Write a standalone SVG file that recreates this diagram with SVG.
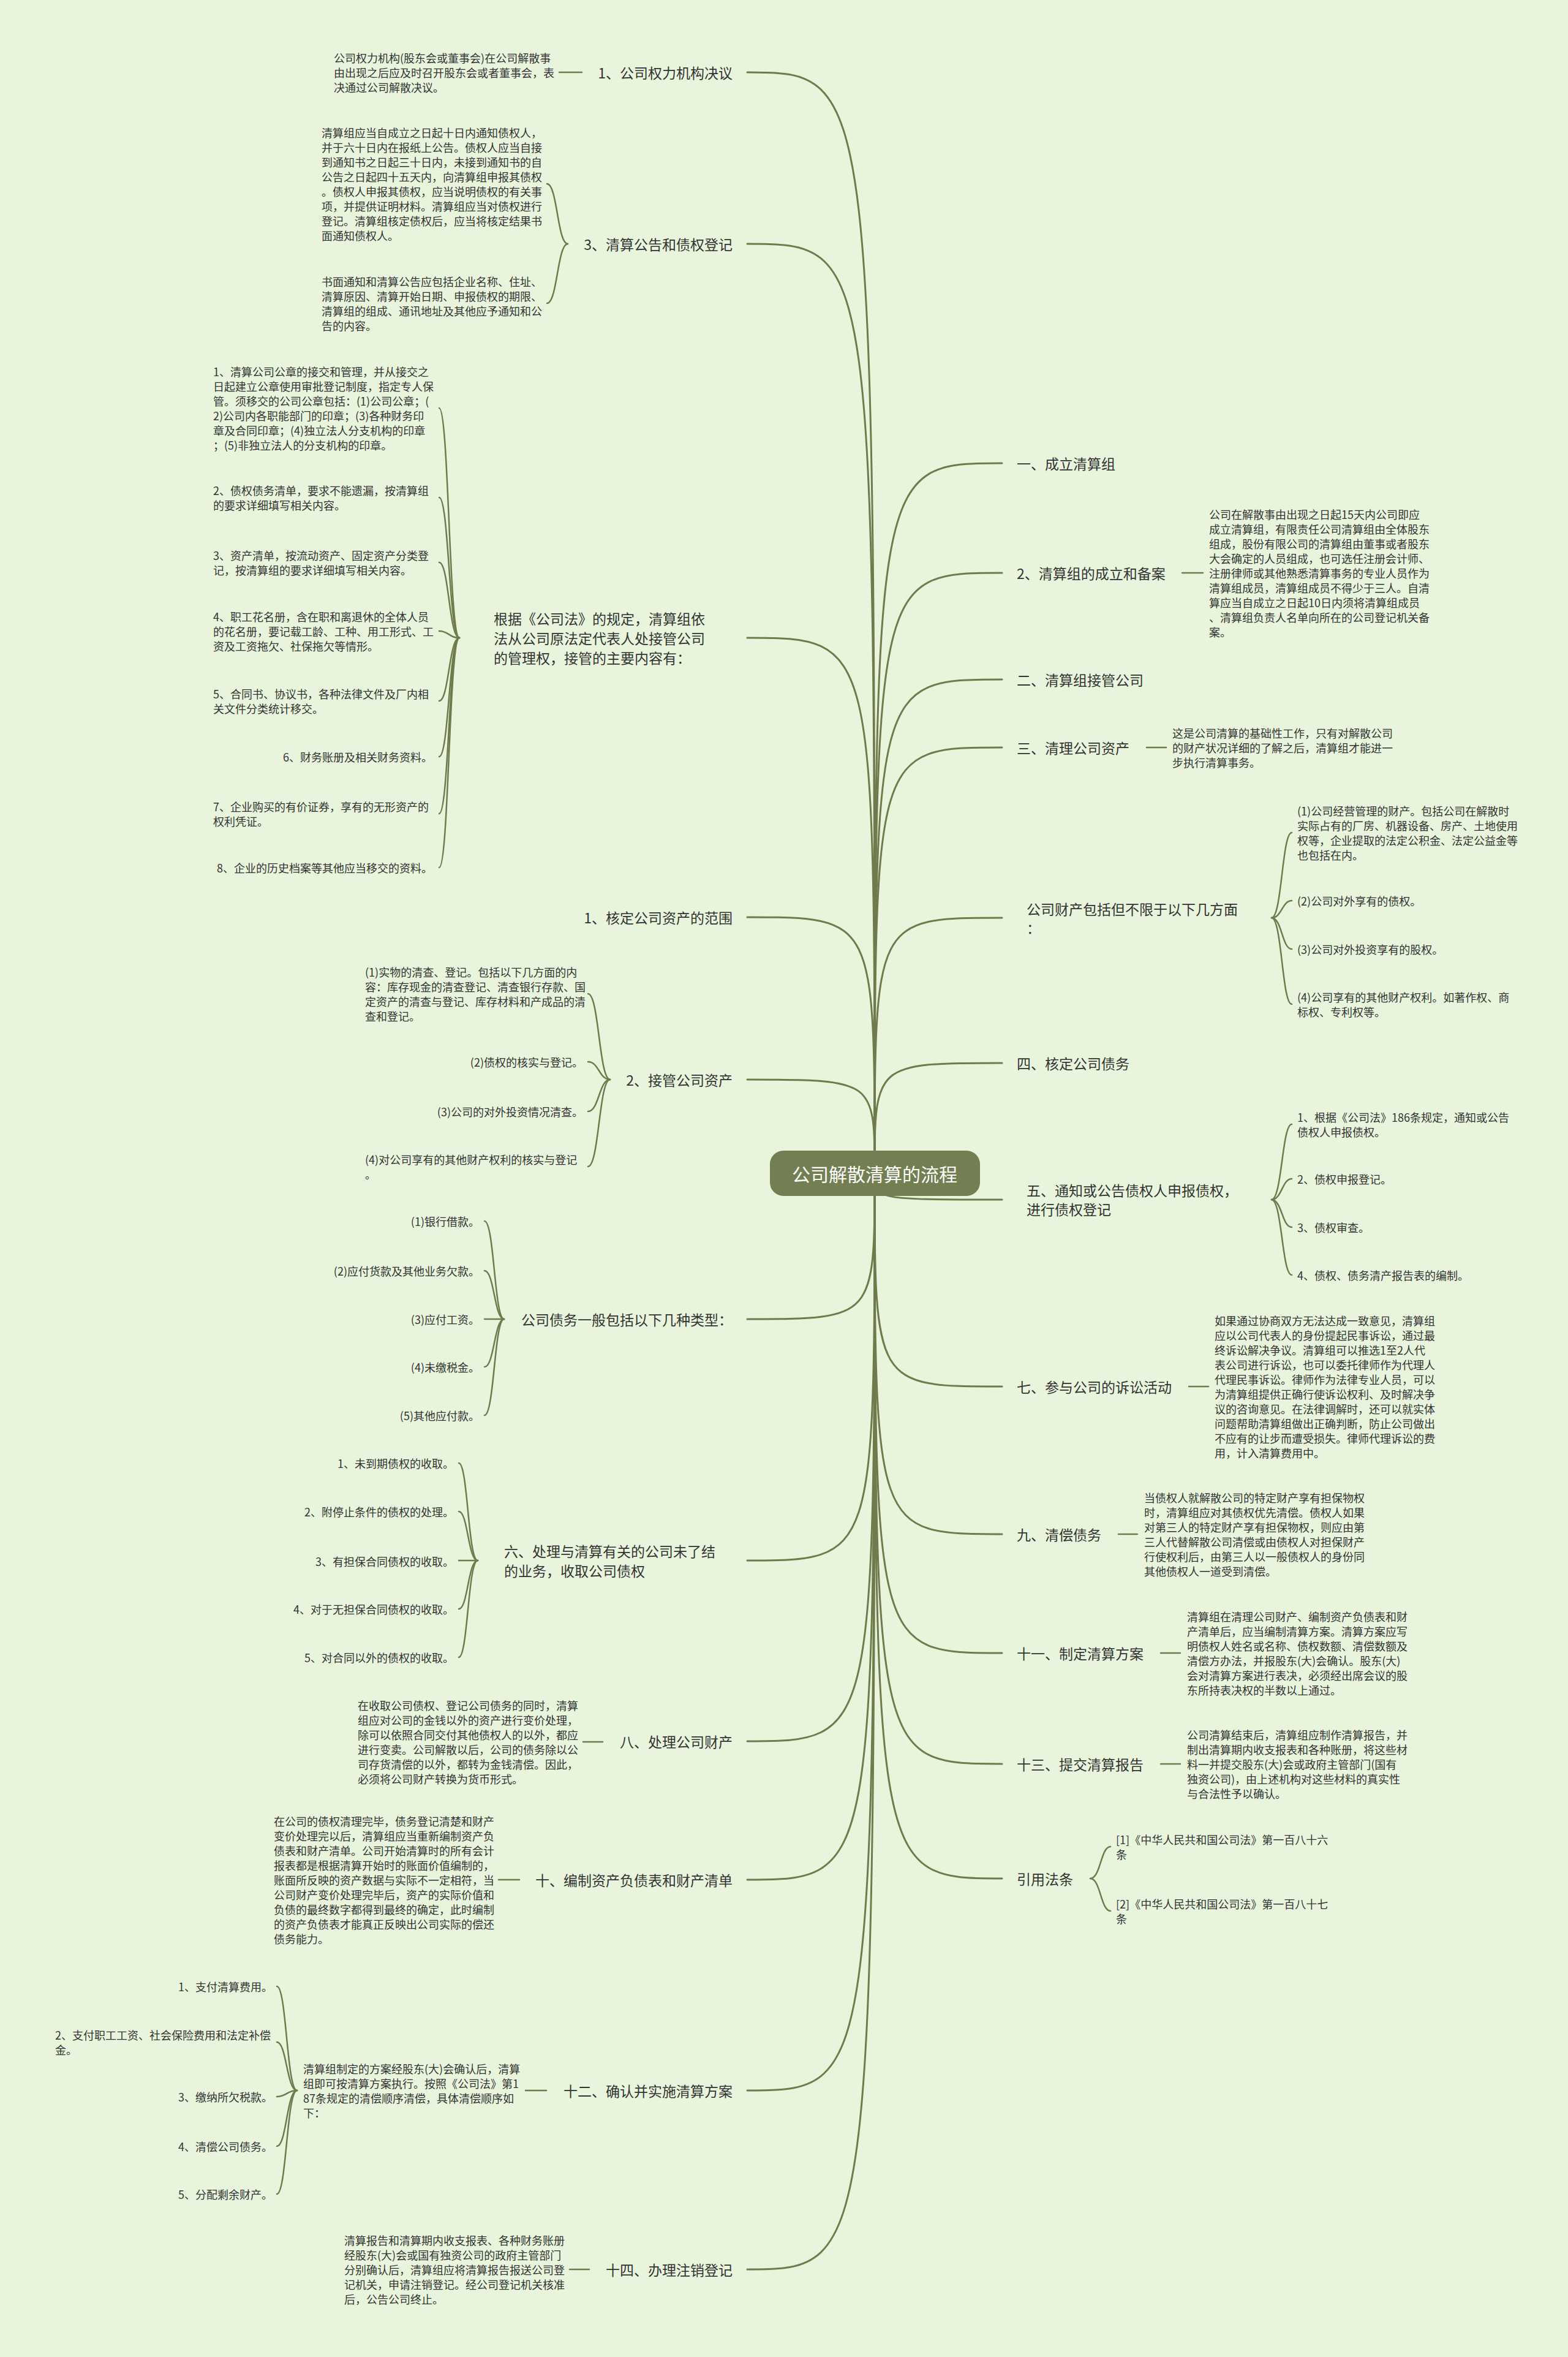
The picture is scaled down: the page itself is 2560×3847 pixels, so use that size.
<svg xmlns="http://www.w3.org/2000/svg" width="2560" height="3847" viewBox="0 0 2560 3847">
<style>
text{font-family:"Noto Sans CJK SC","Liberation Sans",sans-serif;fill:#333333;dominant-baseline:central}
.lbl{font-size:23px}
.t{font-size:18px}
.e{text-anchor:end}
.ln{fill:none;stroke:#6f7b4c;stroke-width:2.5;stroke-linecap:round}
.tr{fill:none;stroke:#6f7b4c;stroke-width:3;stroke-linecap:round}
.ctext{font-size:30px;fill:#ffffff;text-anchor:middle}
</style>
<rect x="0" y="0" width="2560" height="3847" fill="#e8f5dc"/>

<g id="connectors">
<!-- trunk left -->
<path class="tr" d="M1220 118 C1428 118 1428 118 1428 1915"/>
<path class="tr" d="M1220 398 C1428 398 1428 398 1428 1915"/>
<path class="tr" d="M1220 1041 C1428 1041 1428 1041 1428 1915"/>
<path class="tr" d="M1220 1497 C1428 1497 1428 1497 1428 1915"/>
<path class="tr" d="M1220 1762 C1428 1762 1428 1762 1428 1915"/>
<path class="tr" d="M1220 2153 C1428 2153 1428 2153 1428 1915"/>
<path class="tr" d="M1220 2547 C1428 2547 1428 2547 1428 1915"/>
<path class="tr" d="M1220 2842 C1428 2842 1428 2842 1428 1915"/>
<path class="tr" d="M1220 3068 C1428 3068 1428 3068 1428 1915"/>
<path class="tr" d="M1220 3412 C1428 3412 1428 3412 1428 1915"/>
<path class="tr" d="M1220 3704 C1428 3704 1428 3704 1428 1915"/>
<!-- trunk right -->
<path class="tr" d="M1636 756 C1428 756 1428 756 1428 1915"/>
<path class="tr" d="M1636 935 C1428 935 1428 935 1428 1915"/>
<path class="tr" d="M1636 1109 C1428 1109 1428 1109 1428 1915"/>
<path class="tr" d="M1636 1220 C1428 1220 1428 1220 1428 1915"/>
<path class="tr" d="M1636 1498 C1428 1498 1428 1498 1428 1915"/>
<path class="tr" d="M1636 1735 C1428 1735 1428 1735 1428 1915"/>
<path class="tr" d="M1636 1958 C1428 1958 1428 1958 1428 1915"/>
<path class="tr" d="M1636 2263 C1428 2263 1428 2263 1428 1915"/>
<path class="tr" d="M1636 2504 C1428 2504 1428 2504 1428 1915"/>
<path class="tr" d="M1636 2698 C1428 2698 1428 2698 1428 1915"/>
<path class="tr" d="M1636 2879 C1428 2879 1428 2879 1428 1915"/>
<path class="tr" d="M1636 3066 C1428 3066 1428 3066 1428 1915"/>
<!-- left sub -->
<path class="ln" d="M950 118 L913 118"/>
<path class="ln" d="M927 398 C910 398 910 300 893 300"/>
<path class="ln" d="M927 398 C910 398 910 495 893 495"/>
<path class="ln" d="M750 1041 C733 1041 733 666 717 666"/>
<path class="ln" d="M750 1041 C733 1041 733 812 717 812"/>
<path class="ln" d="M750 1041 C733 1041 733 918 717 918"/>
<path class="ln" d="M750 1041 C733 1041 733 1030 717 1030"/>
<path class="ln" d="M750 1041 C733 1041 733 1144 717 1144"/>
<path class="ln" d="M750 1041 C733 1041 733 1235 717 1235"/>
<path class="ln" d="M750 1041 C733 1041 733 1328 717 1328"/>
<path class="ln" d="M750 1041 C733 1041 733 1416 717 1416"/>
<path class="ln" d="M996 1762 C978 1762 978 1622 960 1622"/>
<path class="ln" d="M996 1762 C978 1762 978 1733 960 1733"/>
<path class="ln" d="M996 1762 C978 1762 978 1814 960 1814"/>
<path class="ln" d="M996 1762 C978 1762 978 1904 960 1904"/>
<path class="ln" d="M823 2153 C807 2153 807 1993 791 1993"/>
<path class="ln" d="M823 2153 C807 2153 807 2074 791 2074"/>
<path class="ln" d="M823 2153 L791 2153"/>
<path class="ln" d="M823 2153 C807 2153 807 2231 791 2231"/>
<path class="ln" d="M823 2153 C807 2153 807 2310 791 2310"/>
<path class="ln" d="M780 2547 C764 2547 764 2388 749 2388"/>
<path class="ln" d="M780 2547 C764 2547 764 2467 749 2467"/>
<path class="ln" d="M780 2547 L749 2547"/>
<path class="ln" d="M780 2547 C764 2547 764 2626 749 2626"/>
<path class="ln" d="M780 2547 C764 2547 764 2705 749 2705"/>
<path class="ln" d="M984 2843 L952 2843"/>
<path class="ln" d="M848 3068 L814 3068"/>
<path class="ln" d="M892 3412 L858 3412"/>
<path class="ln" d="M485 3412 C468 3412 468 3242 452 3242"/>
<path class="ln" d="M485 3412 C468 3412 468 3333 452 3333"/>
<path class="ln" d="M485 3412 C468 3412 468 3422 452 3422"/>
<path class="ln" d="M485 3412 C468 3412 468 3503 452 3503"/>
<path class="ln" d="M485 3412 C468 3412 468 3581 452 3581"/>
<path class="ln" d="M962 3704 L930 3704"/>
<!-- right sub -->
<path class="ln" d="M1930 935 L1964 935"/>
<path class="ln" d="M1872 1220 L1904 1220"/>
<path class="ln" d="M2076 1498 C2093 1498 2093 1359 2109 1359"/>
<path class="ln" d="M2076 1498 C2093 1498 2093 1470 2109 1470"/>
<path class="ln" d="M2076 1498 C2093 1498 2093 1549 2109 1549"/>
<path class="ln" d="M2076 1498 C2093 1498 2093 1639 2109 1639"/>
<path class="ln" d="M2076 1958 C2093 1958 2093 1835 2109 1835"/>
<path class="ln" d="M2076 1958 C2093 1958 2093 1924 2109 1924"/>
<path class="ln" d="M2076 1958 C2093 1958 2093 2003 2109 2003"/>
<path class="ln" d="M2076 1958 C2093 1958 2093 2081 2109 2081"/>
<path class="ln" d="M1941 2263 L1973 2263"/>
<path class="ln" d="M1826 2504 L1857 2504"/>
<path class="ln" d="M1895 2698 L1927 2698"/>
<path class="ln" d="M1895 2879 L1927 2879"/>
<path class="ln" d="M1780 3066 C1797 3066 1797 3014 1813 3014"/>
<path class="ln" d="M1780 3066 C1797 3066 1797 3119 1813 3119"/>
</g>

<g id="center">
<rect x="1257" y="1878" width="343" height="74" rx="22" fill="#737f52"/>
<text class="ctext" x="1428" y="1915">公司解散清算的流程</text>
</g>

<!-- LEFT -->
<g id="n-l1">
<text class="lbl e" x="1196" y="118">1、公司权力机构决议</text>
</g>
<g id="n-l1-d">
<text class="t" x="545" y="94"><tspan x="545" y="94">公司权力机构(股东会或董事会)在公司解散事</tspan><tspan x="545" y="118">由出现之后应及时召开股东会或者董事会，表</tspan><tspan x="545" y="142">决通过公司解散决议。</tspan></text>
</g>

<g id="n-l3">
<text class="lbl e" x="1196" y="398">3、清算公告和债权登记</text>
</g>
<g id="n-l3-c1">
<text class="t"><tspan x="525" y="216">清算组应当自成立之日起十日内通知债权人，</tspan><tspan x="525" y="240">并于六十日内在报纸上公告。债权人应当自接</tspan><tspan x="525" y="264">到通知书之日起三十日内，未接到通知书的自</tspan><tspan x="525" y="288">公告之日起四十五天内，向清算组申报其债权</tspan><tspan x="525" y="312">。债权人申报其债权，应当说明债权的有关事</tspan><tspan x="525" y="336">项，并提供证明材料。清算组应当对债权进行</tspan><tspan x="525" y="360">登记。清算组核定债权后，应当将核定结果书</tspan><tspan x="525" y="384">面通知债权人。</tspan></text>
</g>
<g id="n-l3-c2">
<text class="t"><tspan x="525" y="459">书面通知和清算公告应包括企业名称、住址、</tspan><tspan x="525" y="483">清算原因、清算开始日期、申报债权的期限、</tspan><tspan x="525" y="507">清算组的组成、通讯地址及其他应予通知和公</tspan><tspan x="525" y="531">告的内容。</tspan></text>
</g>

<g id="n-gj">
<text class="lbl"><tspan x="806" y="1009">根据《公司法》的规定，清算组依</tspan><tspan x="806" y="1041">法从公司原法定代表人处接管公司</tspan><tspan x="806" y="1073">的管理权，接管的主要内容有：</tspan></text>
</g>
<g id="n-gj-c1"><text class="t"><tspan x="348" y="606">1、清算公司公章的接交和管理，并从接交之</tspan><tspan x="348" y="630">日起建立公章使用审批登记制度，指定专人保</tspan><tspan x="348" y="654">管。须移交的公司公章包括：(1)公司公章；(</tspan><tspan x="348" y="678">2)公司内各职能部门的印章；(3)各种财务印</tspan><tspan x="348" y="702">章及合同印章；(4)独立法人分支机构的印章</tspan><tspan x="348" y="726">；(5)非独立法人的分支机构的印章。</tspan></text></g>
<g id="n-gj-c2"><text class="t"><tspan x="348" y="800">2、债权债务清单，要求不能遗漏，按清算组</tspan><tspan x="348" y="824">的要求详细填写相关内容。</tspan></text></g>
<g id="n-gj-c3"><text class="t"><tspan x="348" y="906">3、资产清单，按流动资产、固定资产分类登</tspan><tspan x="348" y="930">记，按清算组的要求详细填写相关内容。</tspan></text></g>
<g id="n-gj-c4"><text class="t"><tspan x="348" y="1006">4、职工花名册，含在职和离退休的全体人员</tspan><tspan x="348" y="1030">的花名册，要记载工龄、工种、用工形式、工</tspan><tspan x="348" y="1054">资及工资拖欠、社保拖欠等情形。</tspan></text></g>
<g id="n-gj-c5"><text class="t"><tspan x="348" y="1132">5、合同书、协议书，各种法律文件及厂内相</tspan><tspan x="348" y="1156">关文件分类统计移交。</tspan></text></g>
<g id="n-gj-c6"><text class="t e" x="706" y="1235">6、财务账册及相关财务资料。</text></g>
<g id="n-gj-c7"><text class="t"><tspan x="348" y="1316">7、企业购买的有价证券，享有的无形资产的</tspan><tspan x="348" y="1340">权利凭证。</tspan></text></g>
<g id="n-gj-c8"><text class="t e" x="706" y="1416">8、企业的历史档案等其他应当移交的资料。</text></g>

<g id="n-hd"><text class="lbl e" x="1196" y="1497">1、核定公司资产的范围</text></g>

<g id="n-jg"><text class="lbl e" x="1196" y="1762">2、接管公司资产</text></g>
<g id="n-jg-c1"><text class="t"><tspan x="596" y="1586">(1)实物的清查、登记。包括以下几方面的内</tspan><tspan x="596" y="1610">容：库存现金的清查登记、清查银行存款、国</tspan><tspan x="596" y="1634">定资产的清查与登记、库存材料和产成品的清</tspan><tspan x="596" y="1658">查和登记。</tspan></text></g>
<g id="n-jg-c2"><text class="t e" x="952" y="1733">(2)债权的核实与登记。</text></g>
<g id="n-jg-c3"><text class="t e" x="952" y="1814">(3)公司的对外投资情况清查。</text></g>
<g id="n-jg-c4"><text class="t"><tspan x="596" y="1892">(4)对公司享有的其他财产权利的核实与登记</tspan><tspan x="596" y="1916">。</tspan></text></g>

<g id="n-zw"><text class="lbl e" x="1196" y="2153">公司债务一般包括以下几种类型：</text></g>
<g id="n-zw-c1"><text class="t e" x="783" y="1993">(1)银行借款。</text></g>
<g id="n-zw-c2"><text class="t e" x="783" y="2074">(2)应付货款及其他业务欠款。</text></g>
<g id="n-zw-c3"><text class="t e" x="783" y="2153">(3)应付工资。</text></g>
<g id="n-zw-c4"><text class="t e" x="783" y="2231">(4)未缴税金。</text></g>
<g id="n-zw-c5"><text class="t e" x="783" y="2310">(5)其他应付款。</text></g>

<g id="n-6"><text class="lbl"><tspan x="823" y="2531">六、处理与清算有关的公司未了结</tspan><tspan x="823" y="2563">的业务，收取公司债权</tspan></text></g>
<g id="n-6-c1"><text class="t e" x="741" y="2388">1、未到期债权的收取。</text></g>
<g id="n-6-c2"><text class="t e" x="741" y="2467">2、附停止条件的债权的处理。</text></g>
<g id="n-6-c3"><text class="t e" x="741" y="2548">3、有担保合同债权的收取。</text></g>
<g id="n-6-c4"><text class="t e" x="741" y="2626">4、对于无担保合同债权的收取。</text></g>
<g id="n-6-c5"><text class="t e" x="741" y="2705">5、对合同以外的债权的收取。</text></g>

<g id="n-8"><text class="lbl e" x="1196" y="2842">八、处理公司财产</text></g>
<g id="n-8-d"><text class="t"><tspan x="584" y="2783">在收取公司债权、登记公司债务的同时，清算</tspan><tspan x="584" y="2807">组应对公司的金钱以外的资产进行变价处理，</tspan><tspan x="584" y="2831">除可以依照合同交付其他债权人的以外，都应</tspan><tspan x="584" y="2855">进行变卖。公司解散以后，公司的债务除以公</tspan><tspan x="584" y="2879">司存货清偿的以外，都转为金钱清偿。因此，</tspan><tspan x="584" y="2903">必须将公司财产转换为货币形式。</tspan></text></g>

<g id="n-10"><text class="lbl e" x="1196" y="3068">十、编制资产负债表和财产清单</text></g>
<g id="n-10-d"><text class="t"><tspan x="447" y="2972">在公司的债权清理完毕，债务登记清楚和财产</tspan><tspan x="447" y="2996">变价处理完以后，清算组应当重新编制资产负</tspan><tspan x="447" y="3020">债表和财产清单。公司开始清算时的所有会计</tspan><tspan x="447" y="3044">报表都是根据清算开始时的账面价值编制的，</tspan><tspan x="447" y="3068">账面所反映的资产数据与实际不一定相符，当</tspan><tspan x="447" y="3092">公司财产变价处理完毕后，资产的实际价值和</tspan><tspan x="447" y="3116">负债的最终数字都得到最终的确定，此时编制</tspan><tspan x="447" y="3140">的资产负债表才能真正反映出公司实际的偿还</tspan><tspan x="447" y="3164">债务能力。</tspan></text></g>

<g id="n-12"><text class="lbl e" x="1196" y="3412">十二、确认并实施清算方案</text></g>
<g id="n-12-m"><text class="t"><tspan x="495" y="3376">清算组制定的方案经股东(大)会确认后，清算</tspan><tspan x="495" y="3400">组即可按清算方案执行。按照《公司法》第1</tspan><tspan x="495" y="3424">87条规定的清偿顺序清偿，具体清偿顺序如</tspan><tspan x="495" y="3448">下：</tspan></text></g>
<g id="n-12-c1"><text class="t e" x="445" y="3242">1、支付清算费用。</text></g>
<g id="n-12-c2"><text class="t"><tspan x="90" y="3321">2、支付职工工资、社会保险费用和法定补偿</tspan><tspan x="90" y="3345">金。</tspan></text></g>
<g id="n-12-c3"><text class="t e" x="445" y="3422">3、缴纳所欠税款。</text></g>
<g id="n-12-c4"><text class="t e" x="445" y="3503">4、清偿公司债务。</text></g>
<g id="n-12-c5"><text class="t e" x="445" y="3581">5、分配剩余财产。</text></g>

<g id="n-14"><text class="lbl e" x="1196" y="3704">十四、办理注销登记</text></g>
<g id="n-14-d"><text class="t"><tspan x="562" y="3656">清算报告和清算期内收支报表、各种财务账册</tspan><tspan x="562" y="3680">经股东(大)会或国有独资公司的政府主管部门</tspan><tspan x="562" y="3704">分别确认后，清算组应将清算报告报送公司登</tspan><tspan x="562" y="3728">记机关，申请注销登记。经公司登记机关核准</tspan><tspan x="562" y="3752">后，公告公司终止。</tspan></text></g>

<!-- RIGHT -->
<g id="n-r1"><text class="lbl" x="1660" y="756">一、成立清算组</text></g>
<g id="n-r2"><text class="lbl" x="1660" y="935">2、清算组的成立和备案</text></g>
<g id="n-r2-d"><text class="t"><tspan x="1974" y="839">公司在解散事由出现之日起15天内公司即应</tspan><tspan x="1974" y="863">成立清算组，有限责任公司清算组由全体股东</tspan><tspan x="1974" y="887">组成，股份有限公司的清算组由董事或者股东</tspan><tspan x="1974" y="911">大会确定的人员组成，也可选任注册会计师、</tspan><tspan x="1974" y="935">注册律师或其他熟悉清算事务的专业人员作为</tspan><tspan x="1974" y="959">清算组成员，清算组成员不得少于三人。自清</tspan><tspan x="1974" y="983">算应当自成立之日起10日内须将清算组成员</tspan><tspan x="1974" y="1007">、清算组负责人名单向所在的公司登记机关备</tspan><tspan x="1974" y="1031">案。</tspan></text></g>
<g id="n-r3"><text class="lbl" x="1660" y="1109">二、清算组接管公司</text></g>
<g id="n-r4"><text class="lbl" x="1660" y="1220">三、清理公司资产</text></g>
<g id="n-r4-d"><text class="t"><tspan x="1914" y="1196">这是公司清算的基础性工作，只有对解散公司</tspan><tspan x="1914" y="1220">的财产状况详细的了解之后，清算组才能进一</tspan><tspan x="1914" y="1244">步执行清算事务。</tspan></text></g>

<g id="n-r5"><text class="lbl"><tspan x="1676" y="1483">公司财产包括但不限于以下几方面</tspan><tspan x="1676" y="1514">：</tspan></text></g>
<g id="n-r5-c1"><text class="t"><tspan x="2118" y="1323">(1)公司经营管理的财产。包括公司在解散时</tspan><tspan x="2118" y="1347">实际占有的厂房、机器设备、房产、土地使用</tspan><tspan x="2118" y="1371">权等，企业提取的法定公积金、法定公益金等</tspan><tspan x="2118" y="1395">也包括在内。</tspan></text></g>
<g id="n-r5-c2"><text class="t" x="2118" y="1470">(2)公司对外享有的债权。</text></g>
<g id="n-r5-c3"><text class="t" x="2118" y="1549">(3)公司对外投资享有的股权。</text></g>
<g id="n-r5-c4"><text class="t"><tspan x="2118" y="1627">(4)公司享有的其他财产权利。如著作权、商</tspan><tspan x="2118" y="1651">标权、专利权等。</tspan></text></g>

<g id="n-r6"><text class="lbl" x="1660" y="1735">四、核定公司债务</text></g>

<g id="n-r7"><text class="lbl"><tspan x="1676" y="1942">五、通知或公告债权人申报债权，</tspan><tspan x="1676" y="1973">进行债权登记</tspan></text></g>
<g id="n-r7-c1"><text class="t"><tspan x="2118" y="1823">1、根据《公司法》186条规定，通知或公告</tspan><tspan x="2118" y="1847">债权人申报债权。</tspan></text></g>
<g id="n-r7-c2"><text class="t" x="2118" y="1924">2、债权申报登记。</text></g>
<g id="n-r7-c3"><text class="t" x="2118" y="2003">3、债权审查。</text></g>
<g id="n-r7-c4"><text class="t" x="2118" y="2081">4、债权、债务清产报告表的编制。</text></g>

<g id="n-r8"><text class="lbl" x="1660" y="2263">七、参与公司的诉讼活动</text></g>
<g id="n-r8-d"><text class="t"><tspan x="1983" y="2155">如果通过协商双方无法达成一致意见，清算组</tspan><tspan x="1983" y="2179">应以公司代表人的身份提起民事诉讼，通过最</tspan><tspan x="1983" y="2203">终诉讼解决争议。清算组可以推选1至2人代</tspan><tspan x="1983" y="2227">表公司进行诉讼，也可以委托律师作为代理人</tspan><tspan x="1983" y="2251">代理民事诉讼。律师作为法律专业人员，可以</tspan><tspan x="1983" y="2275">为清算组提供正确行使诉讼权利、及时解决争</tspan><tspan x="1983" y="2299">议的咨询意见。在法律调解时，还可以就实体</tspan><tspan x="1983" y="2323">问题帮助清算组做出正确判断，防止公司做出</tspan><tspan x="1983" y="2347">不应有的让步而遭受损失。律师代理诉讼的费</tspan><tspan x="1983" y="2371">用，计入清算费用中。</tspan></text></g>

<g id="n-r9"><text class="lbl" x="1660" y="2504">九、清偿债务</text></g>
<g id="n-r9-d"><text class="t"><tspan x="1868" y="2444">当债权人就解散公司的特定财产享有担保物权</tspan><tspan x="1868" y="2468">时，清算组应对其债权优先清偿。债权人如果</tspan><tspan x="1868" y="2492">对第三人的特定财产享有担保物权，则应由第</tspan><tspan x="1868" y="2516">三人代替解散公司清偿或由债权人对担保财产</tspan><tspan x="1868" y="2540">行使权利后，由第三人以一般债权人的身份同</tspan><tspan x="1868" y="2564">其他债权人一道受到清偿。</tspan></text></g>

<g id="n-r10"><text class="lbl" x="1660" y="2698">十一、制定清算方案</text></g>
<g id="n-r10-d"><text class="t"><tspan x="1938" y="2638">清算组在清理公司财产、编制资产负债表和财</tspan><tspan x="1938" y="2662">产清单后，应当编制清算方案。清算方案应写</tspan><tspan x="1938" y="2686">明债权人姓名或名称、债权数额、清偿数额及</tspan><tspan x="1938" y="2710">清偿方办法，并报股东(大)会确认。股东(大)</tspan><tspan x="1938" y="2734">会对清算方案进行表决，必须经出席会议的股</tspan><tspan x="1938" y="2758">东所持表决权的半数以上通过。</tspan></text></g>

<g id="n-r11"><text class="lbl" x="1660" y="2879">十三、提交清算报告</text></g>
<g id="n-r11-d"><text class="t"><tspan x="1938" y="2831">公司清算结束后，清算组应制作清算报告，并</tspan><tspan x="1938" y="2855">制出清算期内收支报表和各种账册，将这些材</tspan><tspan x="1938" y="2879">料一并提交股东(大)会或政府主管部门(国有</tspan><tspan x="1938" y="2903">独资公司)，由上述机构对这些材料的真实性</tspan><tspan x="1938" y="2927">与合法性予以确认。</tspan></text></g>

<g id="n-r12"><text class="lbl" x="1660" y="3066">引用法条</text></g>
<g id="n-r12-c1"><text class="t"><tspan x="1822" y="3002">[1]《中华人民共和国公司法》第一百八十六</tspan><tspan x="1822" y="3026">条</tspan></text></g>
<g id="n-r12-c2"><text class="t"><tspan x="1822" y="3107">[2]《中华人民共和国公司法》第一百八十七</tspan><tspan x="1822" y="3131">条</tspan></text></g>
</svg>
